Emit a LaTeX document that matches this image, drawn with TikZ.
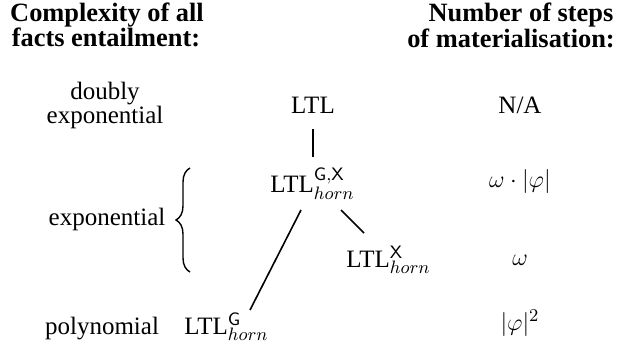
\documentclass[tikz,border=0pt]{standalone}
\usepackage[no-math]{fontspec}
\setmainfont{Liberation Serif}
\usetikzlibrary{decorations.pathreplacing}
\begin{document}
\begin{tikzpicture}[x=0.5pt,y=-0.5pt,
  lbl/.style={anchor=base,inner sep=0pt,font=\fontsize{12.5}{15}\selectfont},
  hdr/.style={anchor=base,inner sep=0pt,font=\fontsize{13.2}{13.5}\selectfont\bfseries},
  conn/.style={line width=0.8pt},
  bracestyle/.style={line width=0.7pt,decorate,decoration={brace,amplitude=7pt}}]
\useasboundingbox (0,0) rectangle (626,358);
% headers
\node[hdr] (h1a) at (107,22) {Complexity of all};
\node[hdr] (h1b) at (106,47) {facts entailment:};
\node[hdr] (h2a) at (521,22) {Number of steps};
\node[hdr] (h2b) at (511,48) {of materialisation:};
% left column
\node[lbl] (c1a) at (105,99) {doubly};
\node[lbl] (c1b) at (105,124) {exponential};
\node[lbl] (c2) at (107,225) {exponential};
\node[lbl] (c3) at (102,334) {polynomial};
% languages
\node[lbl] (ltl) at (313,113) {LTL};
\node[lbl] (gx) at (312.5,192) {LTL$^{\mathsf{G,X}}_{horn}$};
\node[lbl] (x) at (388.5,267) {LTL$^{\mathsf{X}}_{horn}$};
\node[lbl] (g) at (226.5,334) {LTL$^{\mathsf{G}}_{horn}$};
% steps
\node[lbl] (s1) at (520,113) {N/A};
\node[lbl] (s2) at (520,187) {$\omega\cdot|\varphi|$};
\node[lbl] (s3) at (520,265) {$\omega$};
\node[lbl] (s4) at (520,330) {$|\varphi|^2$};
% connectors
\coordinate (a1) at (313,129);
\coordinate (a2) at (313,157);
\coordinate (b1) at (301,210);
\coordinate (b2) at (250,310);
\coordinate (d1) at (341,210);
\coordinate (d2) at (364,233);
\draw[conn] (a1) -- (a2);
\draw[conn] (b1) -- (b2);
\draw[conn] (d1) -- (d2);
% brace
\coordinate (br1) at (190,272);
\coordinate (br2) at (190,168);
\draw[bracestyle] (br1) -- (br2);
\end{tikzpicture}
\end{document}
